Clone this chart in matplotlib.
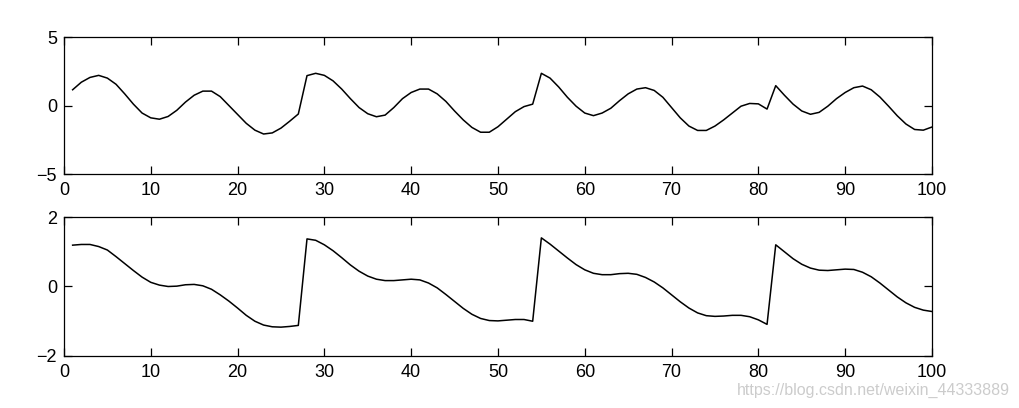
import matplotlib
matplotlib.use("Agg")
import matplotlib.pyplot as plt
import numpy as np

plt.rcParams["font.family"] = ["Liberation Sans", "DejaVu Sans"]

# sample index
x = np.arange(1, 101)

# upper trace at each sample
top_vals = [
    1.15, 1.70, 2.05, 2.20, 2.00, 1.55, 0.85, 0.10, -0.55, -0.90,
    -1.00, -0.80, -0.35, 0.25, 0.75, 1.05, 1.05, 0.65, 0.00, -0.65,
    -1.30, -1.80, -2.08, -2.00, -1.65, -1.15, -0.62, 2.18, 2.35, 2.20,
    1.80, 1.20, 0.50, -0.15, -0.60, -0.82, -0.70, -0.15, 0.50, 0.95,
    1.20, 1.20, 0.85, 0.30, -0.40, -1.05, -1.60, -1.95, -1.95, -1.55,
    -1.00, -0.45, -0.08, 0.10, 2.35, 2.00, 1.35, 0.60, -0.05, -0.55,
    -0.74, -0.55, -0.20, 0.35, 0.85, 1.20, 1.30, 1.10, 0.60, -0.15,
    -0.90, -1.50, -1.82, -1.82, -1.50, -1.05, -0.55, -0.05, 0.15, 0.12,
    -0.26, 1.45, 0.75, 0.10, -0.40, -0.64, -0.50, -0.05, 0.50, 0.95,
    1.30, 1.42, 1.15, 0.62, -0.05, -0.75, -1.35, -1.75, -1.80, -1.57,
]

# lower trace
bottom_vals = [
    1.19, 1.21, 1.21, 1.15, 1.05, 0.86, 0.66, 0.46, 0.27, 0.12,
    0.04, 0.00, 0.01, 0.05, 0.06, 0.02, -0.08, -0.24, -0.42, -0.62,
    -0.83, -1.00, -1.11, -1.16, -1.17, -1.15, -1.12, 1.37, 1.33, 1.20,
    1.03, 0.83, 0.62, 0.44, 0.30, 0.21, 0.17, 0.17, 0.19, 0.21,
    0.19, 0.10, -0.04, -0.23, -0.43, -0.63, -0.80, -0.92, -0.98, -0.99,
    -0.97, -0.95, -0.95, -1.00, 1.40, 1.22, 1.02, 0.82, 0.63, 0.48,
    0.38, 0.34, 0.34, 0.37, 0.38, 0.35, 0.26, 0.13, -0.04, -0.24,
    -0.44, -0.62, -0.76, -0.84, -0.86, -0.85, -0.83, -0.83, -0.87, -0.96,
    -1.09, 1.20, 1.00, 0.80, 0.64, 0.53, 0.47, 0.46, 0.48, 0.50,
    0.49, 0.41, 0.28, 0.10, -0.10, -0.30, -0.47, -0.60, -0.68, -0.72,
]

xticks = np.arange(0, 101, 10)
top_yticks = [-5, 0, 5]
bottom_yticks = [-2, 0, 2]

fig = plt.figure(figsize=(10.2, 4.08), dpi=100)
ax1 = fig.add_axes([0.0627, 0.5735, 0.851, 0.3358])
ax2 = fig.add_axes([0.0627, 0.1275, 0.851, 0.3406])

for ax, vals, yt in [(ax1, top_vals, top_yticks), (ax2, bottom_vals, bottom_yticks)]:
    ax.plot(x, vals, color="black", linewidth=1.1)
    ax.set_xlim(0, 100)
    ax.set_ylim(yt[0], yt[-1])
    ax.set_xticks(xticks)
    ax.set_yticks(yt)
    ax.tick_params(direction="in", top=True, right=True, length=6,
                   width=0.9, labelsize=13, pad=5.5)
    ax.tick_params(axis="y", pad=5)
    for s in ax.spines.values():
        s.set_linewidth(0.9)

fig.text(0.99, 0.025, "https://blog.csdn.net/weixin_44333889", ha="right",
         va="bottom", fontsize=11.5, color="#cccccc")

fig.savefig("out.png", dpi=100)
